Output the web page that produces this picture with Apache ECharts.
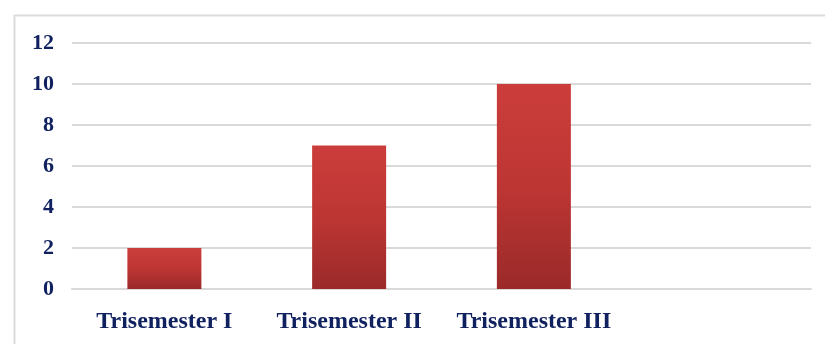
<!DOCTYPE html>
<html>
<head>
<meta charset="utf-8">
<script src="https://cdn.jsdelivr.net/npm/echarts@6/dist/echarts.min.js"></script>
<style>
  html, body { margin: 0; padding: 0; background: #fff; }
  #chart { width: 825px; height: 344px; }
</style>
</head>
<body>
<div id="chart"></div>
<script>
// data
const categories = ['Trisemester I', 'Trisemester II', 'Trisemester III', ''];
const values = [2, 7, 10, null];
const yTicks = [0, 2, 4, 6, 8, 10, 12];

const labelColor = '#10215f';
const gridColor = '#d9d9d9';

const myChart = echarts.init(document.getElementById('chart'));
const option = {
  animation: false,
  graphic: [
    {
      type: 'rect',
      left: 12,
      top: 13,
      shape: { width: 900, height: 400 },
      style: { fill: 'none', stroke: '#dcdcdc', lineWidth: 2 },
      silent: true,
    },
  ],
  grid: { left: 72, right: 14, top: 43, bottom: 55, containLabel: false },
  xAxis: {
    type: 'category',
    data: categories,
    axisLine: { lineStyle: { color: gridColor, width: 2 } },
    axisTick: { show: false },
    axisLabel: {
      interval: 0,
      hideOverlap: false,
      color: labelColor,
      fontFamily: '"Liberation Serif", "Times New Roman", serif',
      fontWeight: 'bold',
      fontSize: 24,
      margin: 21,
    },
  },
  yAxis: {
    type: 'value',
    min: yTicks[0],
    max: yTicks[yTicks.length - 1],
    interval: 2,
    axisLine: { show: false },
    axisTick: { show: false },
    axisLabel: {
      color: labelColor,
      fontFamily: '"Liberation Serif", "Times New Roman", serif',
      fontWeight: 'bold',
      fontSize: 22,
      margin: 18,
    },
    splitLine: { lineStyle: { color: gridColor, width: 2 } },
  },
  series: [
    {
      type: 'bar',
      data: values,
      barWidth: 74,
      itemStyle: {
        color: new echarts.graphic.LinearGradient(0, 0, 0, 1, [
          { offset: 0, color: '#cb3d3a' },
          { offset: 0.5, color: '#bd3634' },
          { offset: 1, color: '#9a2a29' },
        ]),
      },
    },
  ],
};
myChart.setOption(option);
</script>
</body>
</html>
